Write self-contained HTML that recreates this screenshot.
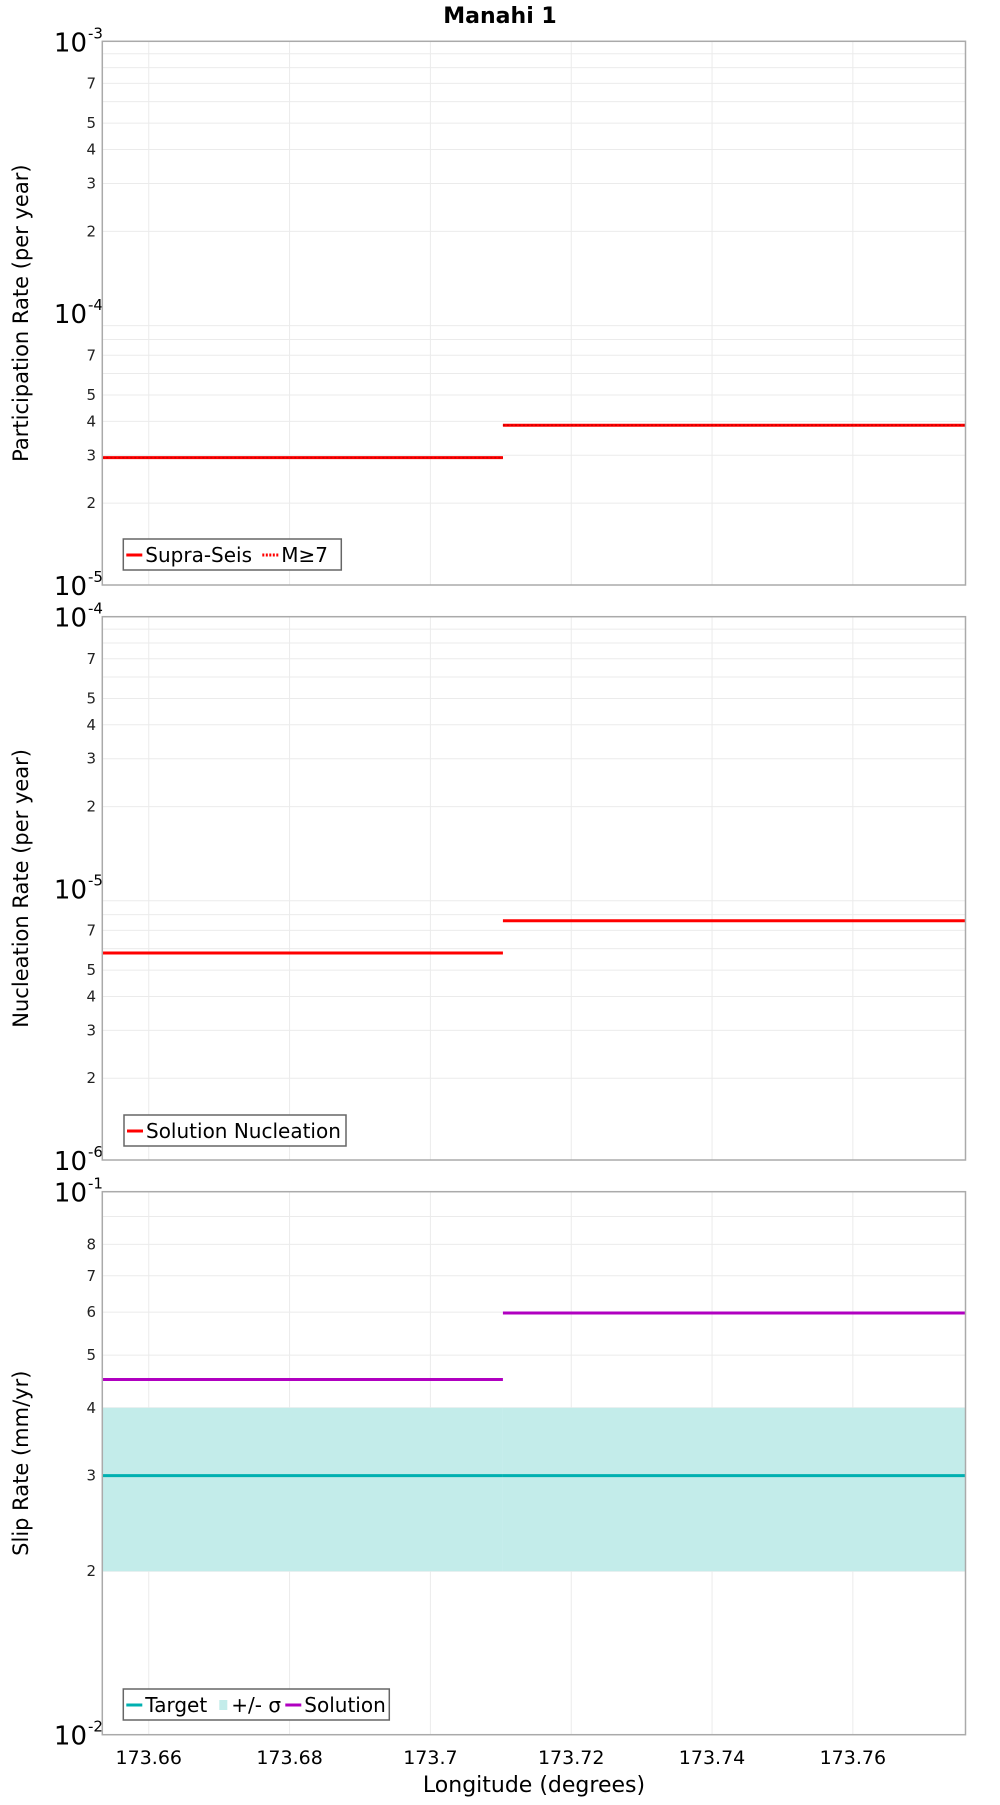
<!DOCTYPE html>
<html><head><meta charset="utf-8"><style>
body{margin:0;background:#fff}
svg text{font-family:"DejaVu Sans","Liberation Sans",sans-serif}
</style></head><body>
<svg id="chart" width="1000" height="1800" viewBox="0 0 1000 1800" xmlns="http://www.w3.org/2000/svg">
<text x="500" y="23" text-anchor="middle" font-size="22" font-weight="bold">Manahi 1</text>
<g id="root"></g>
</svg>
<script>
const xTicks = [173.66, 173.68, 173.70, 173.72, 173.74, 173.76];
const xTickLabels = ["173.66", "173.68", "173.7", "173.72", "173.74", "173.76"];
const segStarts = [173.6534, 173.7103];
const segEnds = [173.7103, 173.776];
const participation = [2.94e-5, 3.87e-5];
const nucleation = [5.78e-6, 7.6e-6];
const solutionSlip = [0.0451, 0.0598];
const targetSlip = [0.030, 0.030];
const sigmaLow = [0.020, 0.020];
const sigmaHigh = [0.040, 0.040];

const NS = "http://www.w3.org/2000/svg";
const root = document.getElementById('root');
const L = 102.3, R = 965.5, X0 = 173.6534, X1 = 173.776;
function xs(v){ return L + (v - X0) / (X1 - X0) * (R - L); }
function mk(tag, attrs, parent){ const e = document.createElementNS(NS, tag); for (const k in attrs) e.setAttribute(k, attrs[k]); (parent||root).appendChild(e); return e; }

function panel(top, bottom, e0, e1, minorLabels, title, name){
  const g = mk('g', {});
  
  
  const ys = v => bottom - (Math.log10(v) - e0) / (e1 - e0) * (bottom - top);
  for (let e = e0; e < e1; e++) {
    for (let m = 1; m <= 9; m++) {
      const v = m * Math.pow(10, e); const y = ys(v);
      if (m > 1) {
        const gl = mk('line', {x1: L, x2: R, y1: y, y2: y, stroke: '#ebebeb', 'stroke-width': 1}, g);
        
        
        if (minorLabels.includes(m)) {
          const t = mk('text', {x: 96, y: y + 5, 'text-anchor': 'end', 'font-size': 15, fill: '#222'}, g);
          t.textContent = String(m);
          
          
        }
      }
    }
  }
  for (let e = e0; e <= e1; e++) {
    const y = ys(Math.pow(10, e));
    const t = mk('text', {x: 87, y: y + 10, 'text-anchor': 'end', 'font-size': 26}, g);
    t.textContent = '10';
    
    
    const s = mk('text', {x: 88, y: y - 3, 'font-size': 15}, g);
    s.textContent = String(e);
    
    
  }
  xTicks.forEach(v => {
    const gl = mk('line', {x1: xs(v), x2: xs(v), y1: top, y2: bottom, stroke: '#ebebeb', 'stroke-width': 1}, g);
    
    
  });
  const ttl = mk('text', {transform: `translate(28,${(top+bottom)/2}) rotate(-90)`, 'text-anchor': 'middle', 'font-size': 21}, g);
  ttl.textContent = title;
  
  
  return {g, ys};
}
function frame(g, top, bottom){
  const f = mk('rect', {x: L, y: top, width: R - L, height: bottom - top, fill: 'none', stroke: '#aaa', 'stroke-width': 1.5}, g);
  
  
}
function seg(g, arr, ys, color, w, dash, name){
  arr.forEach((v, i) => {
    const a = {x1: xs(segStarts[i]), x2: xs(segEnds[i]), y1: ys(v), y2: ys(v), stroke: color, 'stroke-width': w};
    if (dash) a['stroke-dasharray'] = dash;
    const l = mk('line', a, g);
    
    
  });
}
function legend(g, x, y, w, items, name){
  const lg = mk('g', {}, g);
  
  
  mk('rect', {x: x, y: y, width: w, height: 31, fill: '#fff', stroke: '#666', 'stroke-width': 1.5}, lg);
  let cx = x + 3;
  items.forEach(it => {
    if (it.box) mk('rect', {x: cx + 2, y: y + 11, width: 8, height: 10, fill: it.color}, lg);
    else mk('line', {x1: cx, x2: cx + 16, y1: y + 16, y2: y + 16, stroke: it.color, 'stroke-width': 3, 'stroke-dasharray': it.dash || 'none'}, lg);
    const t = mk('text', {x: cx + (it.box ? 14 : 19), y: y + 23, 'font-size': 20}, lg);
    t.textContent = it.label;
    
    
    cx += it.adv;
  });
}

p = panel(41.3, 585, -5, -3, [2,3,4,5,7], 'Participation Rate (per year)', 'participation-panel');
seg(p.g, participation, p.ys, '#ff0000', 3, null, 'supra-seis-line');
seg(p.g, participation, p.ys, '#cc0000', 1.5, '2,2', 'm7-line');
frame(p.g, 41.3, 585);
legend(p.g, 123.3, 539, 218, [{label:'Supra-Seis', color:'#ff0000', adv:136},{label:'M≥7', color:'#ff0000', dash:'2,1.5', adv:80}], 'participation-legend');

p = panel(616.7, 1160, -6, -4, [2,3,4,5,7], 'Nucleation Rate (per year)', 'nucleation-panel');
seg(p.g, nucleation, p.ys, '#ff0000', 3, null, 'nucleation-line');
frame(p.g, 616.7, 1160);
legend(p.g, 124, 1115, 222, [{label:'Solution Nucleation', color:'#ff0000', adv:220}], 'nucleation-legend');

p = panel(1191.7, 1734.7, -2, -1, [2,3,4,5,6,7,8], 'Slip Rate (mm/yr)', 'slip-panel');
sigmaLow.forEach((v, i) => {
  const r = mk('rect', {x: xs(segStarts[i]), y: p.ys(sigmaHigh[i]), width: xs(segEnds[i]) - xs(segStarts[i]), height: p.ys(v) - p.ys(sigmaHigh[i]), fill: '#c3ecea'}, p.g);
  
  
});
seg(p.g, targetSlip, p.ys, '#00b0b0', 3, null, 'target-line');
seg(p.g, solutionSlip, p.ys, '#b000c0', 3, null, 'solution-line');
frame(p.g, 1191.7, 1734.7);
legend(p.g, 123.3, 1689, 266, [{label:'Target', color:'#00b0b0', adv:91},{label:'+/- σ', color:'#c3ecea', box:true, adv:68},{label:'Solution', color:'#b000c0', adv:100}], 'slip-legend');

xTicks.forEach((v, i) => {
  const t = mk('text', {x: xs(v), y: 1764, 'text-anchor': 'middle', 'font-size': 19});
  t.textContent = xTickLabels[i];
  
  
});
const xt = mk('text', {x: 534, y: 1792, 'text-anchor': 'middle', 'font-size': 22});
xt.textContent = 'Longitude (degrees)';


var p;
</script>
</body></html>
